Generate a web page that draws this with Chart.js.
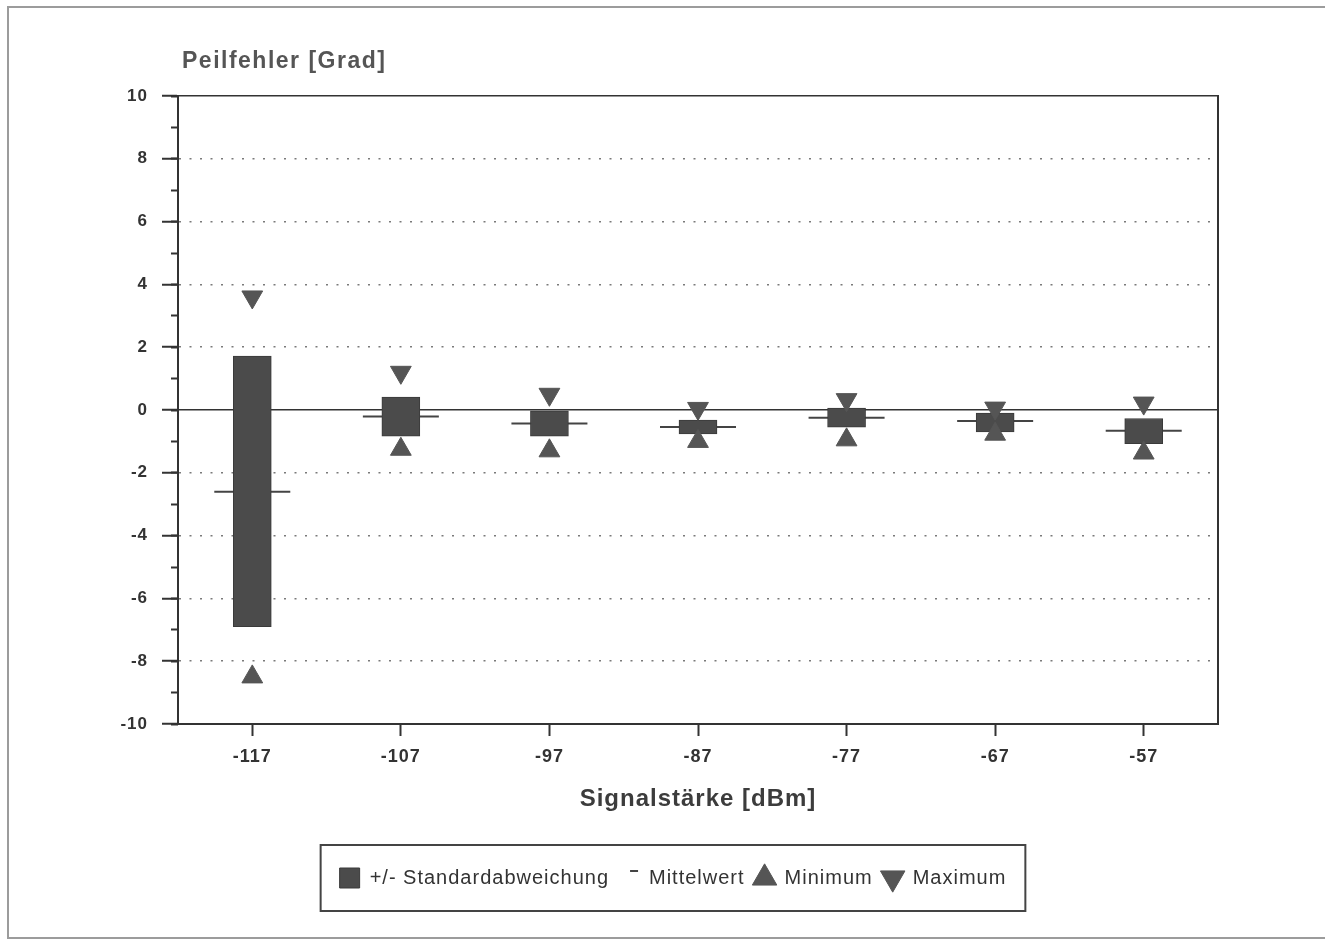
<!DOCTYPE html>
<html>
<head>
<meta charset="utf-8">
<title>Peilfehler</title>
<script src="https://cdn.jsdelivr.net/npm/chart.js@4/dist/chart.umd.min.js"></script>
<style>
  html, body { margin: 0; padding: 0; background: #fff; }
  #wrap { position: relative; width: 1325px; height: 946px; overflow: hidden; }
  #frame { position: absolute; left: 7px; top: 6px; width: 1330px; height: 929px; border: 2px solid #9c9c9c; border-right: none; }
  #canvas1 { position: absolute; left: 0; top: 0; }
</style>
</head>
<body>
<div id="wrap">
  <div id="frame"></div>
  <canvas id="canvas1" width="1325" height="946"></canvas>
</div>
<script>
// signal levels in dBm
const signal = ['-117', '-107', '-97', '-87', '-77', '-67', '-57'];

// bearing error in degrees
const sdLow   = [-6.9, -0.83, -0.83, -0.76, -0.55, -0.70, -1.07];
const sdHigh  = [1.72,  0.41, -0.03, -0.32,  0.06, -0.10, -0.27];
const mean    = [-2.6, -0.21, -0.43, -0.54, -0.25, -0.35, -0.66];
const minimum = [-8.5, -1.25, -1.30, -1.00, -0.95, -0.77, -1.37];
const maximum = [3.6,   1.20,  0.50,  0.05,  0.33,  0.06,  0.22];

const yTicks = [-10, -8, -6, -4, -2, 0, 2, 4, 6, 8, 10];

const FONT = '"Liberation Sans", Arial, Helvetica, sans-serif';
const INK = '#333';

// small dash icon for the "Mittelwert" legend entry
const dashIcon = document.createElement('canvas');
dashIcon.width = 20;
dashIcon.height = 20;
const dctx = dashIcon.getContext('2d');
dctx.fillStyle = '#444';
dctx.fillRect(11, 2, 8, 2);

// wider letter spacing for all chart text
const tracking = {
  id: 'tracking',
  beforeUpdate(chart) { chart.ctx.letterSpacing = '1px'; },
  beforeDraw(chart) { chart.ctx.letterSpacing = '1px'; }
};

// y axis heading above the plot
const headline = {
  id: 'headline',
  afterDraw(chart) {
    const c = chart.ctx;
    c.save();
    c.letterSpacing = '1.5px';
    c.font = 'bold 23px ' + FONT;
    c.fillStyle = '#555';
    c.textBaseline = 'alphabetic';
    c.fillText('Peilfehler [Grad]', chart.chartArea.left + 4, chart.chartArea.top - 28);
    c.restore();
  }
};

// frame around the legend items
const legendFrame = {
  id: 'legendFrame',
  afterDraw(chart) {
    const hb = chart.legend && chart.legend.legendHitBoxes;
    if (!hb || !hb.length) return;
    const left = Math.min(...hb.map(b => b.left)) - 19;
    const right = Math.max(...hb.map(b => b.left + b.width)) + 19;
    const mid = hb[0].top + hb[0].height / 2;
    const c = chart.ctx;
    c.save();
    c.strokeStyle = '#444';
    c.lineWidth = 2;
    c.strokeRect(left, mid - 33, right - left, 66);
    c.restore();
  }
};

const ctx = document.getElementById('canvas1');
const chart = new Chart(ctx, {
  type: 'bar',
  data: {
    labels: signal,
    datasets: [
      {
        label: '+/- Standardabweichung',
        data: signal.map((s, i) => [sdLow[i], sdHigh[i]]),
        backgroundColor: '#4b4b4b',
        borderColor: '#3a3a3a',
        borderWidth: 1,
        borderSkipped: false,
        barThickness: 38,
        order: 1
      },
      {
        type: 'line',
        label: 'Mittelwert',
        data: mean,
        showLine: false,
        pointStyle: 'line',
        pointRadius: 38,
        pointBorderWidth: 2,
        borderColor: '#444',
        backgroundColor: '#444',
        order: 2
      },
      {
        type: 'line',
        label: 'Minimum',
        data: minimum,
        showLine: false,
        pointStyle: 'triangle',
        pointRadius: 12,
        borderWidth: 1,
        borderColor: '#555',
        backgroundColor: '#555',
        order: 0
      },
      {
        type: 'line',
        label: 'Maximum',
        data: maximum,
        showLine: false,
        pointStyle: 'triangle',
        pointRotation: 180,
        pointRadius: 12,
        borderWidth: 1,
        borderColor: '#555',
        backgroundColor: '#555',
        order: 0
      }
    ]
  },
  options: {
    responsive: false,
    animation: false,
    layout: { padding: { left: 100, right: 79, top: 96, bottom: 48 } },
    plugins: {
      tooltip: { enabled: false },
      legend: {
        position: 'bottom',
        labels: {
          usePointStyle: true,
          padding: 10,
          color: INK,
          font: { family: FONT, size: 20 },
          sort: (a, b) => a.datasetIndex - b.datasetIndex,
          generateLabels(chart) {
            const items = Chart.defaults.plugins.legend.labels.generateLabels(chart);
            items.forEach(it => {
              if (it.datasetIndex === 0) it.pointStyle = 'rect';
              if (it.datasetIndex === 1) it.pointStyle = dashIcon;
              if (it.datasetIndex === 3) it.rotation = 180;
            });
            return items;
          }
        }
      }
    },
    scales: {
      x: {
        type: 'category',
        grid: { drawOnChartArea: false, offset: false, tickLength: 12, tickColor: INK, tickWidth: 2 },
        border: { color: INK, width: 2 },
        ticks: { color: INK, padding: 10, font: { family: FONT, size: 18, weight: 'bold' } },
        title: {
          display: true,
          text: 'Signalstärke [dBm]',
          color: '#3c3c3c',
          font: { family: FONT, size: 24, weight: 'bold' },
          padding: { top: 0, bottom: 44 }
        },
        afterFit(scale) { scale.height = 134; }
      },
      y: {
        position: 'left',
        weight: 1,
        min: -10,
        max: 10,
        afterBuildTicks(scale) { scale.ticks = yTicks.map(v => ({ value: v })); },
        ticks: { color: INK, padding: 14, font: { family: FONT, size: 17, weight: 'bold' } },
        grid: {
          tickLength: 16,
          tickColor: INK,
          tickWidth: 2,
          lineWidth: 1.5,
          color: c => (c.tick && c.tick.value % 10 !== 0) ? '#7a7a7a' : INK
        },
        border: {
          color: INK,
          width: 2,
          dash: c => (c.tick && c.tick.value % 10 !== 0) ? [2, 8.5] : []
        },
        afterFit(scale) { scale.width = 78; }
      },
      yMinor: {
        position: 'left',
        weight: 0,
        min: -10,
        max: 10,
        ticks: { display: false, stepSize: 1 },
        grid: { drawOnChartArea: false, tickLength: 7, tickColor: INK, tickWidth: 2 },
        border: { display: false },
        afterFit(scale) { scale.width = 0; }
      },
      yRight: {
        position: 'right',
        ticks: { display: false },
        grid: { drawOnChartArea: false, drawTicks: false },
        border: { color: INK, width: 2 },
        afterFit(scale) { scale.width = 28; }
      }
    }
  },
  plugins: [tracking, headline, legendFrame]
});
</script>
</body>
</html>
